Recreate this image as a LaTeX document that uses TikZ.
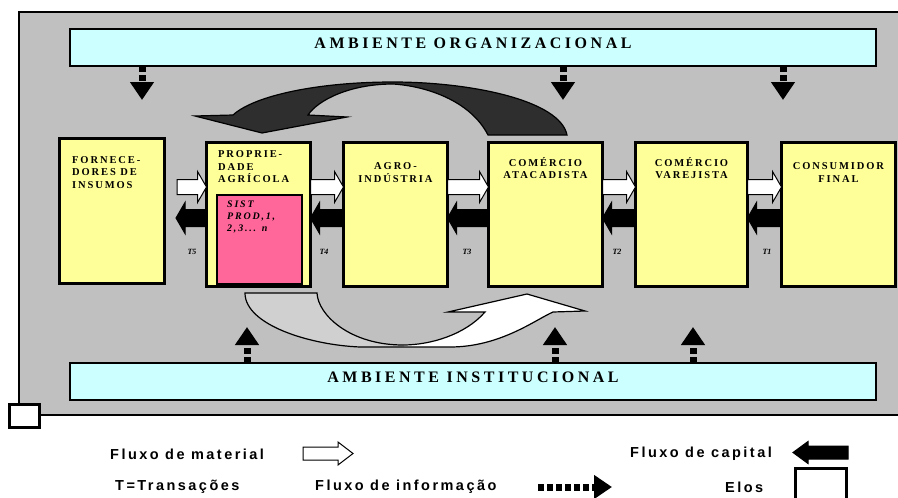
\documentclass[tikz,border=0pt]{standalone}
\usepackage{fontspec}
\setmainfont{Liberation Serif}
\newfontfamily\boxfont[LetterSpace=18]{Liberation Serif}
\newfontfamily\envfont[LetterSpace=22]{Liberation Serif}
\newfontfamily\legfont[LetterSpace=17]{Liberation Sans}
\usetikzlibrary{positioning,calc,arrows.meta}

\definecolor{panelgray}{HTML}{C0C0C0}
\definecolor{envcyan}{HTML}{CCFFFF}
\definecolor{eloyellow}{HTML}{FFFF99}
\definecolor{sistpink}{HTML}{FF6699}
\definecolor{capdark}{HTML}{2E2E2E}
\definecolor{matgray}{HTML}{D0D0D0}

\tikzset{
  panel/.style={draw, line width=1.5pt, fill=panelgray},
  env/.style={draw, line width=2pt, fill=envcyan, minimum width=806pt, minimum height=37pt, inner sep=0pt, outer sep=0pt},
  envtitle/.style={inner sep=0pt, font=\envfont\bfseries\fontsize{16}{18}\selectfont},
  elo/.style={draw, line width=3pt, fill=eloyellow, minimum height=144pt, inner sep=0pt, outer sep=0pt},
  elotitle/.style={inner sep=0pt, align=center, font=\boxfont\bfseries\fontsize{10.5}{12.5}\selectfont},
  sist/.style={draw, line width=2pt, fill=sistpink, minimum width=85pt, minimum height=89pt, inner sep=0pt, outer sep=0pt},
  sisttitle/.style={inner sep=0pt, align=left, font=\boxfont\bfseries\itshape\fontsize{10}{12}\selectfont},
  tlabel/.style={inner sep=0pt, font=\bfseries\itshape\fontsize{8}{8}\selectfont},
  elokey/.style={draw, line width=3pt, fill=white, inner sep=0pt, outer sep=0pt},
  legtext/.style={inner sep=0pt, anchor=west, font=\legfont\bfseries\fontsize{14.5}{16}\selectfont},
  matblock/.style n args={3}{draw, fill=white, line width=1pt, to path={
      ($(\tikztostart)+(0,#1)$) -- ($(\tikztotarget)+(-#3,#1)$) -- ($(\tikztotarget)+(-#3,#2)$)
      -- (\tikztotarget) -- ($(\tikztotarget)+(-#3,-#2)$) -- ($(\tikztotarget)+(-#3,-#1)$)
      -- ($(\tikztostart)+(0,-#1)$) -- cycle}},
  capblock/.style n args={3}{draw, fill=black, line width=1pt, to path={
      ($(\tikztostart)+(0,#1)$) -- ($(\tikztotarget)+(#3,#1)$) -- ($(\tikztotarget)+(#3,#2)$)
      -- (\tikztotarget) -- ($(\tikztotarget)+(#3,-#2)$) -- ($(\tikztotarget)+(#3,-#1)$)
      -- ($(\tikztostart)+(0,-#1)$) -- cycle}},
  matflow/.style={matblock={7.5}{15.5}{9}},
  capflow/.style={capblock={8.5}{15.5}{9}},
  infoflow/.style={line width=7pt, dash pattern=on 6pt off 3pt,
      -{Triangle[width=23pt,length=18pt]}},
}

\newcommand{\lowarrowpath}{(245,293) .. controls (245,325) and (310,345) .. (360,347) -- (450,347)
  .. controls (500,347) and (535,320) .. (553,312) -- (585,311) -- (527,294) -- (448,312) -- (485,312)
  .. controls (465,335) and (430,345) .. (403,345) .. controls (350,345) and (318,315) .. (317,293) -- cycle}

\begin{document}
\begin{tikzpicture}[x=1pt, y=-1pt]
\useasboundingbox (0,0) rectangle (898,498);
% painel cinza
\draw[panel] (19,12) rectangle (906,415);

% ambientes
\node[env] (orgbox) at (473,47.5) {};
\node[envtitle, below=8.5pt of orgbox.north] {AMBIENTE ORGANIZACIONAL};
\node[env] (instbox) at (473,381) {};
\node[envtitle, below=9pt of instbox.north] {AMBIENTE INSTITUCIONAL};

% fluxos de informacao
\coordinate (o1) at (142,100);
\coordinate (o2) at (563,100);
\coordinate (o3) at (783,100);
\coordinate (i1) at (247,327);
\coordinate (i2) at (555,327);
\coordinate (i3) at (693,327);
\draw[infoflow] (orgbox.south -| o1) -- (o1);
\draw[infoflow] (orgbox.south -| o2) -- (o2);
\draw[infoflow] (orgbox.south -| o3) -- (o3);
\draw[infoflow] (instbox.north -| i1) -- (i1);
\draw[infoflow] (instbox.north -| i2) -- (i2);
\draw[infoflow] (instbox.north -| i3) -- (i3);

% elos da cadeia
\node[elo, minimum width=104pt] (prop) at (258.5,214.5) {};
\node[elo, minimum width=105pt, minimum height=145pt, left=42pt of prop, yshift=3.5pt] (forn) {};
\node[elo, minimum width=104pt, right=33pt of prop] (agro) {};
\node[elo, minimum width=114pt, right=41pt of agro] (atac) {};
\node[elo, minimum width=112pt, right=33pt of atac] (varej) {};
\node[elo, minimum width=114pt, right=34pt of varej] (cons) {};

\node[elotitle, align=left, below right=17.5pt and 12.5pt of forn.north west] {FORNECE-\\DORES DE\\INSUMOS};
\node[elotitle, align=left, below right=8pt and 11.5pt of prop.north west] {PROPRIE-\\DADE\\AGRÍCOLA};
\node[elotitle, below=20pt of agro.north] {AGRO-\\INDÚSTRIA};
\node[elotitle, below=14.5pt of atac.north] {COMÉRCIO\\ATACADISTA};
\node[elotitle, below=14.5pt of varej.north] {COMÉRCIO\\VAREJISTA};
\node[elotitle, below=20pt of cons.north] {CONSUMIDOR\\FINAL};

\node[sist] (sist) at (259.5,239.5) {};
\node[sisttitle, below right=6pt and 10pt of sist.north west] {SIST\\PROD,1,\\2,3... n};

% fluxos de material e de capital
\draw[matflow] (177,187) to (prop.west |- 0,187);
\draw[matflow] (prop.east |- 0,187) to (agro.west |- 0,187);
\draw[matflow] (agro.east |- 0,187) to (atac.west |- 0,187);
\draw[matflow] (atac.east |- 0,187) to (varej.west |- 0,187);
\draw[matflow] (varej.east |- 0,187) to (cons.west |- 0,187);
\draw[capflow] (prop.west |- 0,218) to (176,218);
\draw[capflow] (agro.west |- 0,218) to (prop.east |- 0,218);
\draw[capflow] (atac.west |- 0,218) to (agro.east |- 0,218);
\draw[capflow] (varej.west |- 0,218) to (atac.east |- 0,218);
\draw[capflow] (cons.west |- 0,218) to (varej.east |- 0,218);

% transacoes
\node[tlabel] (t5) at (192,252) {T5};
\node[tlabel] (t4) at (324,252) {T4};
\node[tlabel] (t3) at (467,252) {T3};
\node[tlabel] (t2) at (617,252) {T2};
\node[tlabel] (t1) at (767,252) {T1};

% seta de capital (curva superior)
\draw[line width=1.2pt, fill=capdark] (567,135) .. controls (560,100) and (470,82) .. (393,82)
  .. controls (320,82) and (255,95) .. (233,115) -- (195,116) -- (262,133) -- (347,117) -- (308,115)
  .. controls (318,100) and (350,84) .. (393,84) .. controls (425,86) and (470,100) .. (488,135) -- cycle;

% seta de material (curva inferior)
\fill[white] \lowarrowpath;
\begin{scope}
  \clip (0,0) rectangle (404,498);
  \fill[matgray] \lowarrowpath;
\end{scope}
\draw[line width=1.2pt] \lowarrowpath;

% legenda
\node[elokey, minimum width=30pt, minimum height=23pt] (elo0) at (24.5,416) {};
\node[legtext] (lmat) at (110,454) {Fluxo de material};
\node[legtext] (ltrans) at (115,487) {T=Transações};
\node[legtext] (linfo) at (315,487) {Fluxo de informação};
\node[legtext] (lcap) at (630,454) {Fluxo de capital};
\node[legtext] (lelo) at (725,487) {Elos};
\draw[matblock={6.5}{11.5}{15}] (303,453.5) to (353,453.5);
\draw[capblock={6.5}{11}{15}] (848,452.5) to (793,452.5);
\draw[infoflow] (538,487) -- (612,487);
\node[elokey, minimum width=51pt, minimum height=31pt] (elo1) at (821,484) {};
\end{tikzpicture}
\end{document}
